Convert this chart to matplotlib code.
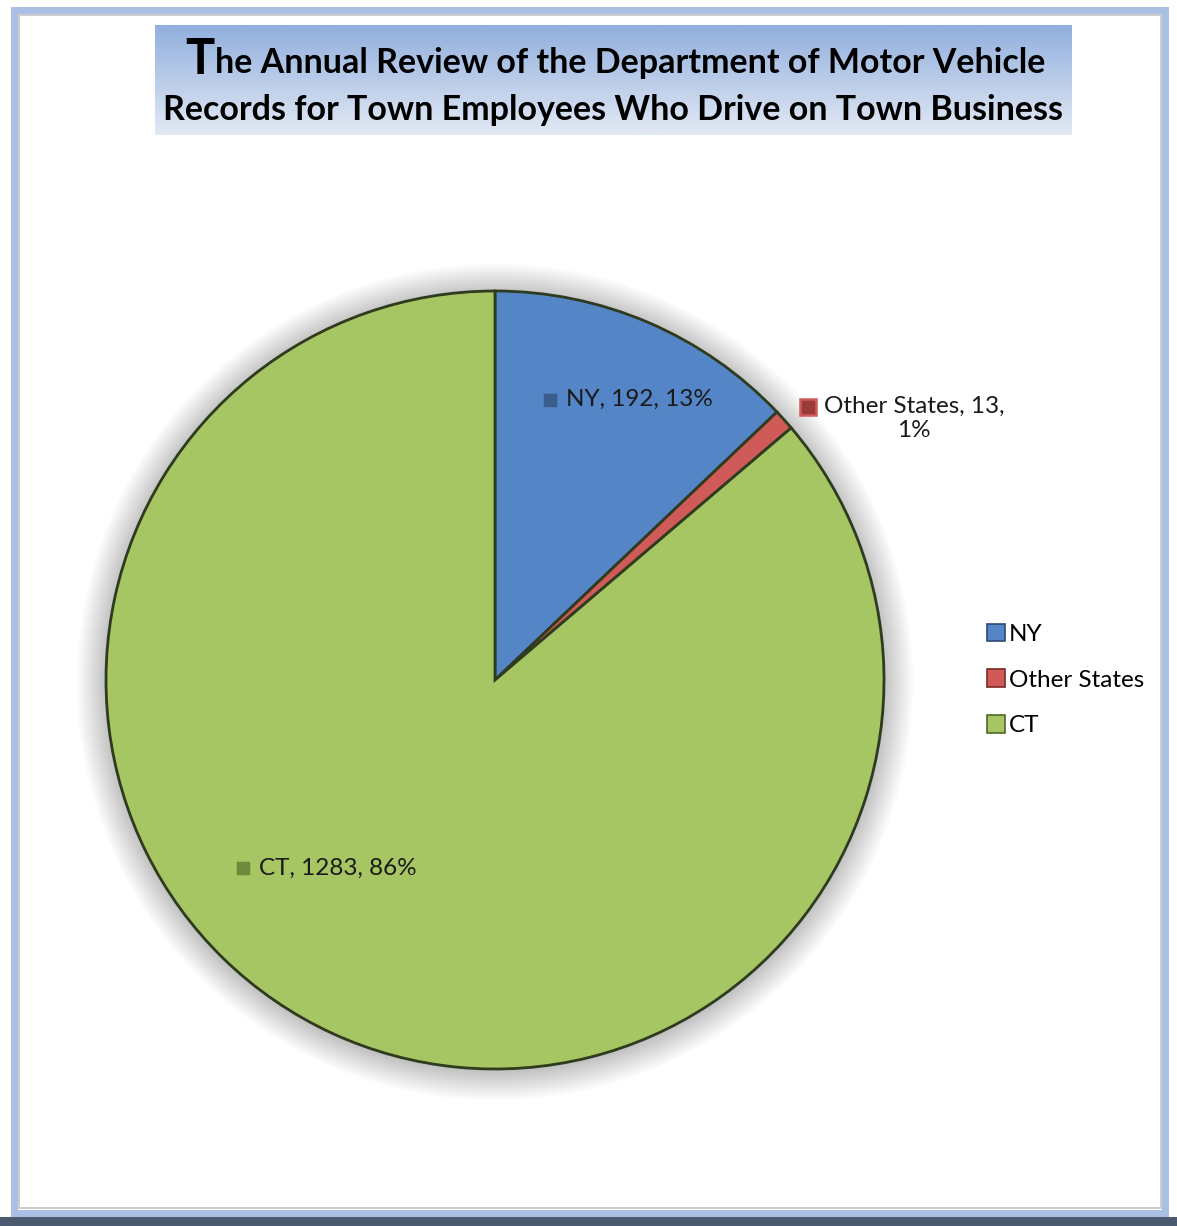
import matplotlib.pyplot as plt
import matplotlib.patches as mpatches
from matplotlib.colors import LinearSegmentedColormap
import numpy as np

# datos del grafico
estados = ["NY", "Other States", "CT"]
registros = [192, 13, 1283]
porcentajes = ["13%", "1%", "86%"]
colores = ["#5485c7", "#d05a57", "#a6c563"]
oscuros = ["#3b5d8c", "#9a3b39", "#6d8a3a"]
bordes = ["#2c4a75", "#7a2a28", "#4f6a25"]
titulo_1 = "The Annual Review of the Department of Motor Vehicle"
titulo_2 = "Records for Town Employees Who Drive on Town Business"

plt.rcParams['font.family'] = ['Lato', 'DejaVu Sans']

fig = plt.figure(figsize=(11.77, 12.26), dpi=100)
fig.patch.set_facecolor("white")

# marco exterior
fig.patches.append(mpatches.Rectangle((0, 0), 1, 0.007, transform=fig.transFigure,
                                      facecolor="#4b5a6e", edgecolor="none", zorder=0))
fig.patches.append(mpatches.Rectangle((0.012, 0.011), 0.978, 0.981, transform=fig.transFigure,
                                      facecolor="none", edgecolor="#a9bfe3", linewidth=5, zorder=1))
fig.patches.append(mpatches.Rectangle((0.016, 0.015), 0.97, 0.973, transform=fig.transFigure,
                                      facecolor="none", edgecolor="#c4c4c4", linewidth=1.2, zorder=1))

# caja del titulo con degradado
ax_t = fig.add_axes([155 / 1177, 1 - 135 / 1226, 917 / 1177, 110 / 1226])
grad = np.linspace(0, 1, 100).reshape(-1, 1)
cmap_t = LinearSegmentedColormap.from_list("t", ["#e2e9f4", "#92afde"])
ax_t.imshow(grad, aspect="auto", cmap=cmap_t, extent=[0, 1, 0, 1], origin="lower")
ax_t.set_xlim(0, 1)
ax_t.set_ylim(0, 1)
ax_t.axis("off")

# pastel (radio 389 px, centro 495,680)
lim = 1.15
ax = fig.add_axes([(495 - 389 * lim) / 1177, (546 - 389 * lim) / 1226,
                   778 * lim / 1177, 778 * lim / 1226])
ax.set_aspect("equal")

# sombra suave
for i in range(16):
    ax.add_patch(mpatches.Circle((0.0, -0.005), 1.0 + i * 0.005, facecolor="black",
                                 alpha=0.015, edgecolor="none", zorder=0))

wedges, _ = ax.pie(registros, colors=colores, startangle=90, counterclock=False,
                   wedgeprops=dict(linewidth=2.0, edgecolor="#2e3b1f"))
for w in wedges:
    w.set_zorder(2)
ax.set_xlim(-lim, lim)
ax.set_ylim(-lim, lim)

# etiquetas de datos
dist = [0.81, 1.27, 0.63]
giro = [-4, -10, -15]
textos = []
for i, w in enumerate(wedges):
    ang = np.deg2rad((w.theta1 + w.theta2) / 2 + giro[i])
    x = dist[i] * np.cos(ang)
    y = dist[i] * np.sin(ang)
    if estados[i] == "Other States":
        etiqueta = f"{estados[i]}, {registros[i]},\n{porcentajes[i]}"
    else:
        etiqueta = f"{estados[i]}, {registros[i]}, {porcentajes[i]}"
    t = ax.text(x, y, etiqueta, ha="center", va="center", fontsize=17.5,
                color="#1a1a1a", multialignment="center", zorder=5, linespacing=1.15)
    textos.append(t)

fig.canvas.draw()
r = fig.canvas.get_renderer()
inv = ax.transData.inverted()
for i, t in enumerate(textos):
    bb = t.get_window_extent(r)
    if "\n" in t.get_text():
        yc = bb.y1 - bb.height / 4
    else:
        yc = (bb.y0 + bb.y1) / 2
    mx, my = inv.transform((bb.x0 - 16, yc))
    ax.plot(mx, my, marker="s", markersize=11, color=oscuros[i],
            markeredgecolor=colores[i], markeredgewidth=1.8, zorder=6)

# leyenda
handles = [mpatches.Patch(facecolor=c, edgecolor=b, linewidth=1.2) for c, b in zip(colores, bordes)]
fig.legend(handles, estados, loc="center left", bbox_to_anchor=(975 / 1177, 1 - 680 / 1226),
           frameon=False, fontsize=17.5, handlelength=0.75, handleheight=0.75,
           handletextpad=0.15, labelspacing=1.0, borderpad=0)

# titulo con la T grande
tT = fig.text(0, 1 - 60 / 1226, titulo_1[0], fontsize=35, fontweight="bold",
              va="center", ha="left", color="black")
tR = fig.text(0, 1 - 63 / 1226, titulo_1[1:], fontsize=24.5, fontweight="bold",
              va="center", ha="left", color="black")
t2 = fig.text(613 / 1177, 1 - 110 / 1226, titulo_2, fontsize=24.5, fontweight="bold",
              va="center", ha="center", color="black")
fig.canvas.draw()
wT = tT.get_window_extent(r).width
wR = tR.get_window_extent(r).width
x0 = 615 - (wT + wR) / 2
tT.set_x(x0 / 1177)
tR.set_x((x0 + wT + 1) / 1177)

fig.savefig("out.png", dpi=100)
